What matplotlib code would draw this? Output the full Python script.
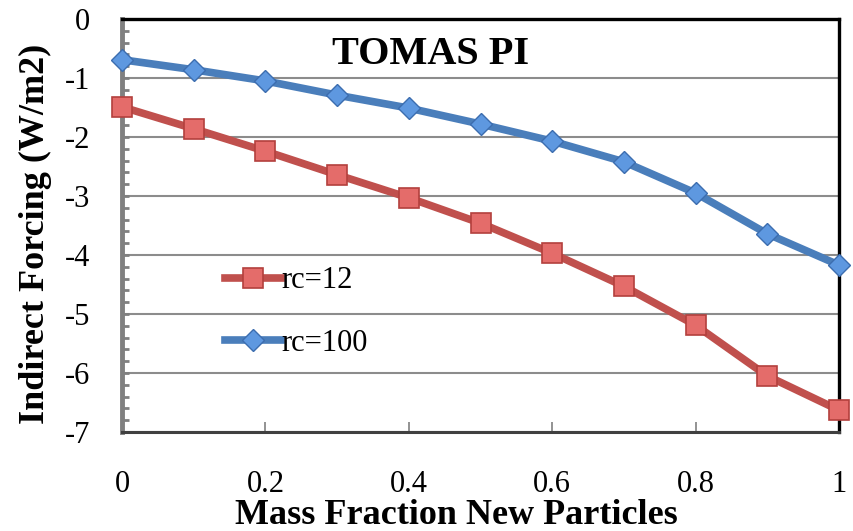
import matplotlib
matplotlib.use("Agg")
import matplotlib.pyplot as plt
from matplotlib.ticker import MultipleLocator

frac = [0.0, 0.1, 0.2, 0.3, 0.4, 0.5, 0.6, 0.7, 0.8, 0.9, 1.0]
rc12 = [-1.49, -1.86, -2.24, -2.64, -3.03, -3.46, -3.97, -4.53, -5.19, -6.05, -6.63]
rc100 = [-0.69, -0.86, -1.05, -1.29, -1.51, -1.78, -2.07, -2.42, -2.95, -3.64, -4.17]
xticks = [0, 0.2, 0.4, 0.6, 0.8, 1]
xticklabels = ["0", "0.2", "0.4", "0.6", "0.8", "1"]
yticks = [0, -1, -2, -3, -4, -5, -6, -7]

plt.rcParams['font.family'] = ['Liberation Serif', 'DejaVu Serif']
plt.rcParams['axes.unicode_minus'] = False

fig = plt.figure(figsize=(8.54, 5.31), dpi=100)
ax = fig.add_axes([0.1429, 0.1864, 0.8395, 0.7778])

ax.plot(frac, rc12, color='#C0504D', lw=5.5, marker='s', ms=14,
        mfc='#E46C6A', mec='#B3403D', mew=1.2, label='rc=12',
        clip_on=False, zorder=5)
ax.plot(frac, rc100, color='#4A7EBB', lw=5.5, marker='D', ms=11,
        mfc='#5E98E0', mec='#3C6DAF', mew=1.0, label='rc=100',
        clip_on=False, zorder=6)

ax.set_xlim(0, 1)
ax.set_ylim(-7, 0)
ax.set_xticks(xticks)
ax.set_xticklabels(xticklabels)
ax.set_yticks(yticks)
ax.yaxis.set_minor_locator(MultipleLocator(0.2))
ax.grid(axis='y', color='#8C8C8C', lw=1.5)
ax.set_axisbelow(True)

ax.tick_params(axis='x', direction='in', length=7, width=1.2, color='#808080',
               pad=27, labelsize=22)
ax.tick_params(axis='y', which='both', direction='in', length=5, width=2,
               color='#808080', pad=23, labelsize=22)

for side in ['top', 'right']:
    ax.spines[side].set_color('black')
    ax.spines[side].set_linewidth(2.4)
ax.spines['bottom'].set_color('#404040')
ax.spines['bottom'].set_linewidth(2.2)
ax.spines['left'].set_color('#808080')
ax.spines['left'].set_linewidth(3.5)

ax.set_xlabel('Mass Fraction New Particles', fontsize=26, fontweight='bold')
ax.xaxis.set_label_coords(0.466, -0.163)
ax.set_ylabel('Indirect Forcing (W/m2)', fontsize=26, fontweight='bold')
ax.yaxis.set_label_coords(-0.097, 0.48)
ax.text(0.43, 0.915, 'TOMAS PI', transform=ax.transAxes, ha='center', va='center',
        fontsize=29, fontweight='bold')

ax.legend(loc='center left', bbox_to_anchor=(0.105, 0.29), frameon=False,
          fontsize=22, handlelength=1.85, handletextpad=0.0, labelspacing=1.1)

fig.savefig('out.png', dpi=100)
